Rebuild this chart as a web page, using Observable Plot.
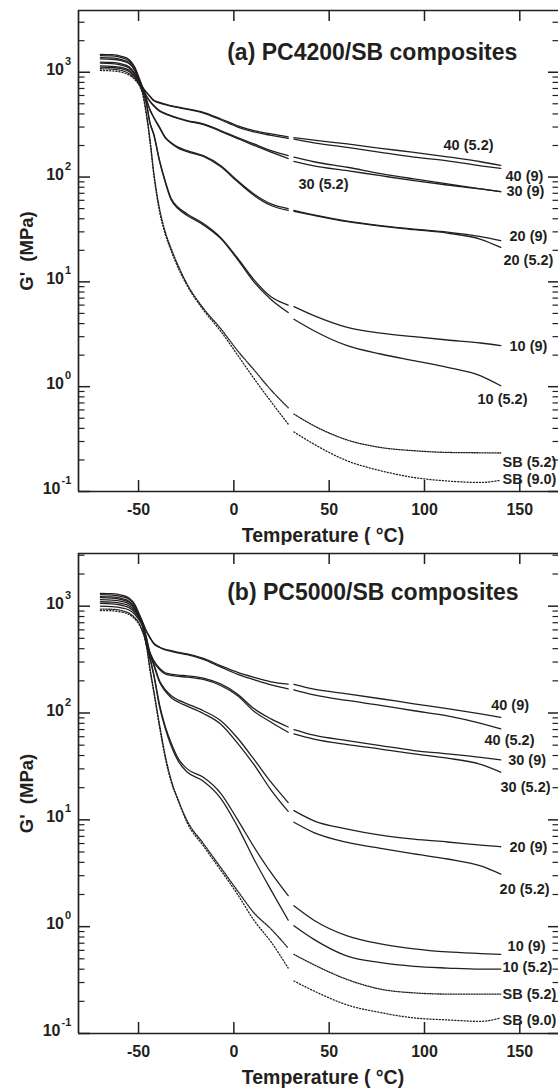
<!DOCTYPE html>
<html><head><meta charset="utf-8">
<script src="https://cdn.jsdelivr.net/npm/d3@7"></script>
<script src="https://cdn.jsdelivr.net/npm/@observablehq/plot@0.6"></script>
<style>
body{margin:0;background:#fff;}
#chart svg{display:block;background:#fff;}
</style></head><body><div id="chart"></div>
<script>
// temperature grid (°C): before the data gap, and after it
const tempsBefore = [-70, -64, -59, -55, -52, -49.5, -48, -46, -44, -42, -39, -36, -33, -29, -24.5, -16, -7, 2, 10.5, 19.5, 28.5];
const tempsAfter = [31.5, 42, 59.5, 77, 94.5, 112, 129.5, 140];

// Panel (a) PC4200/SB : G' (MPa) at tempsBefore then tempsAfter
const a40_52 = [1480,1470,1420,1320,1120,860,730,650,590,540,515,497,480,465,448,415,360,308,278,258,242, 238,225,207,188,172,156,140,129];
const a40_9  = [1440,1430,1380,1290,1100,850,725,645,585,535,508,490,474,459,442,408,352,300,270,250,234, 230,212,192,172,155,143,128,121];
const a30_9  = [1380,1370,1320,1240,1060,830,715,600,530,481,430,405,386,365,346,322,278,238,207,179,160, 155,140,124,108,96,86,77,72.5];
const a30_52 = [1340,1330,1290,1210,1040,820,712,595,525,476,425,400,381,360,341,317,273,233,201,173,150, 141,128,115,103,92.5,84,77,72.5];
const a20_9  = [1250,1240,1200,1130,980,800,705,560,440,372,300,240,214,192,179,160,129,92,69,55.5,50, 48,43.5,38,34.4,31.8,29.8,27,24.7];
const a20_52 = [1220,1210,1170,1100,960,790,700,555,435,368,295,236,210,188,175,157,126,90,67,53.5,48, 47,43,37.5,34,31.5,29.2,25.5,21.3];
const a10_9  = [1150,1140,1110,1050,920,770,690,520,330,258,145,92,63,51,44.5,36,26.6,16.8,10.5,7.2,6.0, 5.8,4.76,3.68,3.25,3.0,2.79,2.61,2.46];
const a10_52 = [1120,1110,1080,1020,900,760,685,515,325,252,141,89,61,49.5,43,35,26,16.3,10,6.8,5.1, 4.4,3.42,2.46,2.05,1.77,1.53,1.27,1.02];
const aSB_52 = [1080,1070,1040,970,870,760,650,420,230,110,50,30,21,14,9.5,5.6,3.6,2.2,1.45,0.93,0.63, 0.548,0.424,0.31,0.263,0.245,0.236,0.234,0.233];
const aSB_9  = [1040,1030,1000,940,850,740,630,400,215,105,47,28.5,20,13.3,9.2,5.4,3.4,2.0,1.2,0.72,0.44, 0.37,0.283,0.196,0.158,0.136,0.126,0.122,0.128];

// Panel (b) PC5000/SB
const b40_9  = [1320,1310,1270,1190,1040,830,720,590,510,450,415,395,384,370,358,325,278,240,216,196,186, 185,167,151,136,122,110,98,91];
const b40_52 = [1280,1270,1230,1160,1020,820,715,585,505,445,410,390,378,364,352,318,270,230,205,183,168, 165,148,131,118,105,94,80,71];
const b30_9  = [1230,1220,1180,1110,980,800,700,520,370,310,262,238,231,226,223,212,187,150,110,88,74, 70,62,55.2,49.5,44.5,41.5,38.5,36.4];
const b30_52 = [1200,1190,1150,1090,960,790,695,510,360,300,255,232,225,220,217,206,181,145,104,82,66, 63.8,57,50.6,46,41.4,37.8,33,27.9];
const b20_9  = [1150,1140,1110,1050,940,780,680,480,360,288,200,165,146,132,122,105,85,58,37,22.5,14.5, 12.2,9.8,8.2,7.2,6.6,6.2,5.8,5.6];
const b20_52 = [1100,1090,1060,1010,910,770,675,470,350,280,195,160,140,126,116,99,79,52,33,19,12, 9.5,7.6,6.15,5.4,4.8,4.3,3.7,3.1];
const b10_9  = [1060,1050,1020,970,880,750,660,450,330,230,120,75,53,37,30,25,17.8,10,5.6,3.2,1.95, 1.57,1.15,0.82,0.69,0.62,0.58,0.56,0.55];
const b10_52 = [1000,990,965,920,840,730,650,440,320,225,115,72,50,35,28,23,16,8.6,4.3,2.2,1.15, 1.02,0.76,0.53,0.46,0.425,0.41,0.40,0.40];
const bSB_52 = [940,935,910,860,780,680,590,450,260,162,78,40,24,15,9.8,6.0,3.6,2.16,1.35,0.95,0.63, 0.55,0.44,0.32,0.26,0.24,0.234,0.234,0.234];
const bSB_9  = [910,905,880,835,760,665,580,440,250,155,74,38,23,14.8,9.4,5.7,3.4,2.0,1.15,0.72,0.41, 0.31,0.25,0.185,0.157,0.14,0.134,0.13,0.14];

// curve labels: text, temperature, modulus at label position
const labelsA = [
  ["40 (5.2)", 110.0, 199], ["40 (9)", 142.5, 101], ["30 (9)", 143.0, 72.6], ["30 (5.2)", 33.9, 86],
  ["20 (9)", 144.6, 27.4], ["20 (5.2)", 141.4, 16.2], ["10 (9)", 144.6, 2.42], ["10 (5.2)", 127.8, 0.75],
  ["SB (5.2)", 140.9, 0.189], ["SB (9.0)", 140.9, 0.131]
];
const labelsB = [
  ["40 (9)", 135.0, 117], ["40 (5.2)", 131.5, 56], ["30 (9)", 143.9, 35.9], ["30 (5.2)", 139.9, 20.1],
  ["20 (9)", 144.6, 5.52], ["20 (5.2)", 139.4, 2.25], ["10 (9)", 143.6, 0.648], ["10 (5.2)", 140.9, 0.415],
  ["SB (5.2)", 140.9, 0.234], ["SB (9.0)", 140.9, 0.1315]
];

const xTicks = [-50, 0, 50, 100, 150];
const decades = [0.1, 1, 10, 100, 1000];
const titleA = "(a) PC4200/SB composites";
const titleB = "(b) PC5000/SB composites";
const xTitle = "Temperature ( \u00b0C)";
const yTitle = "G'\u00a0\u00a0(MPa)";

const ink = "#231f20";
const font = "'Liberation Sans', Arial, Helvetica, sans-serif";

function rowsOf(list) {
  const rows = [];
  for (const [name, vals, dotted] of list) {
    vals.forEach((g, i) => {
      const before = i < tempsBefore.length;
      const t = before ? tempsBefore[i] : tempsAfter[i - tempsBefore.length];
      rows.push({name, seg: name + (before ? "|1" : "|2"), T: t, G: g, dotted});
    });
  }
  return rows;
}

function panel({series, labels, title, yTop, marginTop, marginBottom, titleDy}) {
  const xDomain = [-81.5, 170.3];
  const yDomain = [0.1, yTop];
  const rows = rowsOf(series);
  const minors = [];
  for (let e = -1; e <= 3; e++) for (let k = 2; k <= 9; k++) {
    const v = k * Math.pow(10, e);
    if (v < yTop) minors.push(v);
  }
  const pos = decades.filter(d => d >= 1);
  const lab = labels.map(([text, T, G]) => ({text, T, G}));
  const solid = rows.filter(r => r.dotted === 0);
  const sb52 = rows.filter(r => r.dotted === 1);
  const sb9 = rows.filter(r => r.dotted === 2);
  const txt = {fontWeight: "bold", fill: ink};
  return Plot.plot({
    width: 558, height: 545,
    marginLeft: 78, marginRight: 0, marginTop, marginBottom,
    x: {type: "linear", domain: xDomain, axis: null},
    y: {type: "log", domain: yDomain, axis: null},
    style: {fontFamily: font, background: "#fff"},
    marks: [
      Plot.line(solid, {x: "T", y: "G", z: "seg", stroke: ink, strokeWidth: 1.3, curve: "monotone-x"}),
      Plot.line(sb52, {x: "T", y: "G", z: "seg", stroke: ink, strokeWidth: 1.3, strokeDasharray: "1.3,1.3", curve: "monotone-x"}),
      Plot.line(sb9, {x: "T", y: "G", z: "seg", stroke: ink, strokeWidth: 1.3, strokeDasharray: "1.1,2", curve: "monotone-x"}),
      // frame lines
      Plot.ruleX([xDomain[0]], {x: d => d, stroke: ink, strokeWidth: 1.7}),
      Plot.ruleY([yDomain[0]], {y: d => d, stroke: ink, strokeWidth: 1.7}),
      Plot.ruleY([yDomain[1]], {y: d => d, stroke: ink, strokeWidth: 1.7}),
      // x ticks bottom (inward) and top (inward)
      Plot.ruleX(xTicks, {x: d => d, y1: () => yDomain[0], y2: () => yDomain[0], insetTop: -11, stroke: ink, strokeWidth: 1.5}),
      Plot.ruleX(xTicks, {x: d => d, y1: () => yDomain[1], y2: () => yDomain[1], insetBottom: -11, stroke: ink, strokeWidth: 1.5}),
      // y ticks left
      Plot.ruleY(decades, {y: d => d, x1: () => xDomain[0], x2: () => xDomain[0], insetRight: -12, stroke: ink, strokeWidth: 1.5}),
      Plot.ruleY(minors, {y: d => d, x1: () => xDomain[0], x2: () => xDomain[0], insetRight: -6.5, stroke: ink, strokeWidth: 1.2}),
      // y ticks right
      Plot.ruleY(decades, {y: d => d, x1: () => xDomain[1], x2: () => xDomain[1], insetLeft: -10, stroke: ink, strokeWidth: 1.5}),
      Plot.ruleY(minors, {y: d => d, x1: () => xDomain[1], x2: () => xDomain[1], insetLeft: -5.5, stroke: ink, strokeWidth: 1.2}),
      // y tick labels 10^n
      Plot.text(pos, {y: d => d, text: () => "10", frameAnchor: "left", textAnchor: "end", lineAnchor: "middle", dx: -14.5, dy: -2.5, fontSize: 16, ...txt}),
      Plot.text(pos, {y: d => d, text: d => String(Math.round(Math.log10(d))), frameAnchor: "left", textAnchor: "start", lineAnchor: "middle", dx: -13.5, dy: -11, fontSize: 11, ...txt}),
      Plot.text([0.1], {y: d => d, text: () => "10", frameAnchor: "left", textAnchor: "end", lineAnchor: "middle", dx: -18, dy: -2.5, fontSize: 16, ...txt}),
      Plot.text([0.1], {y: d => d, text: () => "-1", frameAnchor: "left", textAnchor: "start", lineAnchor: "middle", dx: -17, dy: -11, fontSize: 11, ...txt}),
      // x tick labels
      Plot.text(xTicks, {x: d => d, text: d => String(d), frameAnchor: "bottom", lineAnchor: "middle", dy: 18.5, fontSize: 16, ...txt}),
      // axis titles
      Plot.text([xTitle], {text: d => d, frameAnchor: "bottom", textAnchor: "middle", lineAnchor: "middle", dx: 4.5, dy: 44, fontSize: 19.5, ...txt}),
      Plot.text([yTitle], {text: d => d, frameAnchor: "left", textAnchor: "middle", lineAnchor: "middle", dx: -51, rotate: -90, fontSize: 18.5, ...txt}),
      // panel title
      Plot.text([title], {text: d => d, frameAnchor: "top-left", textAnchor: "start", lineAnchor: "middle", dx: 148.7, dy: titleDy, fontSize: 23, ...txt}),
      // curve labels
      Plot.text(lab, {x: "T", y: "G", text: "text", textAnchor: "start", lineAnchor: "middle", fontSize: 14.5, ...txt})
    ]
  });
}

const seriesA = [
  ["40 (5.2)", a40_52, 0], ["40 (9)", a40_9, 0], ["30 (9)", a30_9, 0], ["30 (5.2)", a30_52, 0],
  ["20 (9)", a20_9, 0], ["20 (5.2)", a20_52, 0], ["10 (9)", a10_9, 0], ["10 (5.2)", a10_52, 0],
  ["SB (5.2)", aSB_52, 1], ["SB (9.0)", aSB_9, 2]
];
const seriesB = [
  ["40 (9)", b40_9, 0], ["40 (5.2)", b40_52, 0], ["30 (9)", b30_9, 0], ["30 (5.2)", b30_52, 0],
  ["20 (9)", b20_9, 0], ["20 (5.2)", b20_52, 0], ["10 (9)", b10_9, 0], ["10 (5.2)", b10_52, 0],
  ["SB (5.2)", bSB_52, 1], ["SB (9.0)", bSB_9, 2]
];

const root = document.getElementById("chart");
root.append(panel({series: seriesA, labels: labelsA, title: titleA, yTop: 3882, marginTop: 10, marginBottom: 54, titleDy: 42}));
root.append(panel({series: seriesB, labels: labelsB, title: titleB, yTop: 3112, marginTop: 8, marginBottom: 57, titleDy: 39}));
</script>
</body></html>
